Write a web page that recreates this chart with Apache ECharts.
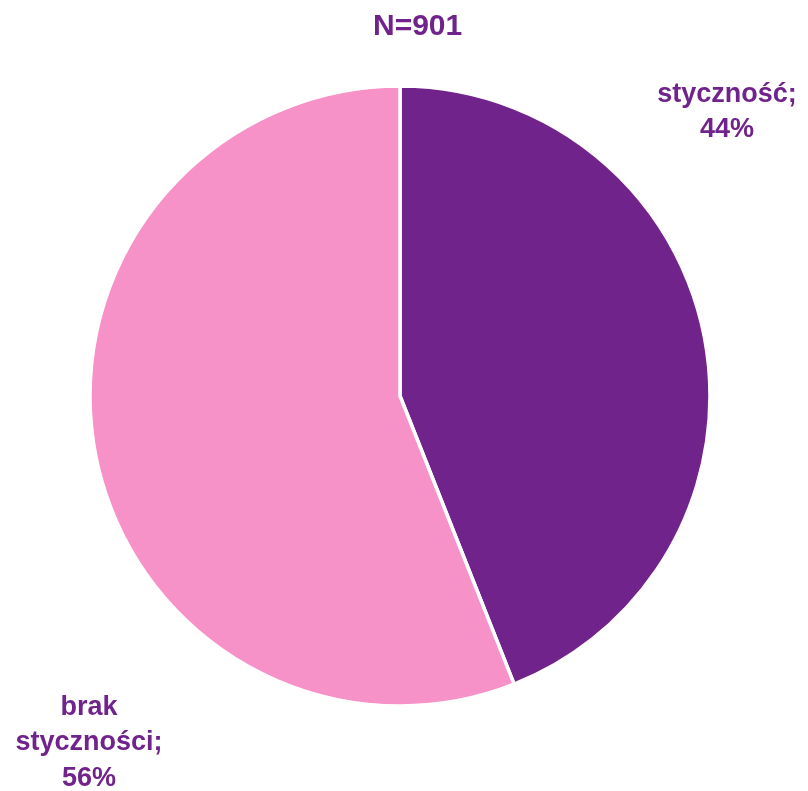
<!DOCTYPE html>
<html>
<head>
<meta charset="utf-8">
<script src="https://cdn.jsdelivr.net/npm/echarts@6/dist/echarts.min.js"></script>
<style>html,body{margin:0;padding:0;background:#fff}#c{width:808px;height:791px}</style>
</head>
<body>
<div id="c"></div>
<script>
const titleText = 'N=901';
const categories = ['styczność', 'brak\nstyczności'];
const values = [44, 56];
const colors = ['#71238C', '#F692C8'];
const labelPositions = [[727, 112], [89, 743]];

const chart = echarts.init(document.getElementById('c'), null, {renderer: 'canvas'});
chart.setOption({
  animation: false,
  title: {
    text: titleText, left: 368, top: 7,
    textStyle: {fontFamily: 'Liberation Sans', fontWeight: 'bold', fontSize: 30, color: '#71238C'}
  },
  series: [{
    type: 'pie',
    center: [400, 396],
    radius: 310,
    startAngle: 90,
    clockwise: true,
    data: categories.map((c, i) => ({name: c, value: values[i], itemStyle: {color: colors[i]}})),
    itemStyle: {borderColor: '#fff', borderWidth: 3.5},
    label: {
      show: true, position: 'outside',
      formatter: p => p.name + ';\n' + p.value + '%',
      fontFamily: 'Liberation Sans', fontWeight: 'bold', fontSize: 27, lineHeight: 35.5,
      color: '#71238C', align: 'center', overflow: 'none'
    },
    labelLine: {show: false},
    labelLayout: function (params) {
      const p = labelPositions[params.dataIndex];
      return {x: p[0], y: p[1], align: 'center', verticalAlign: 'middle'};
    }
  }]
});
</script>
</body>
</html>
